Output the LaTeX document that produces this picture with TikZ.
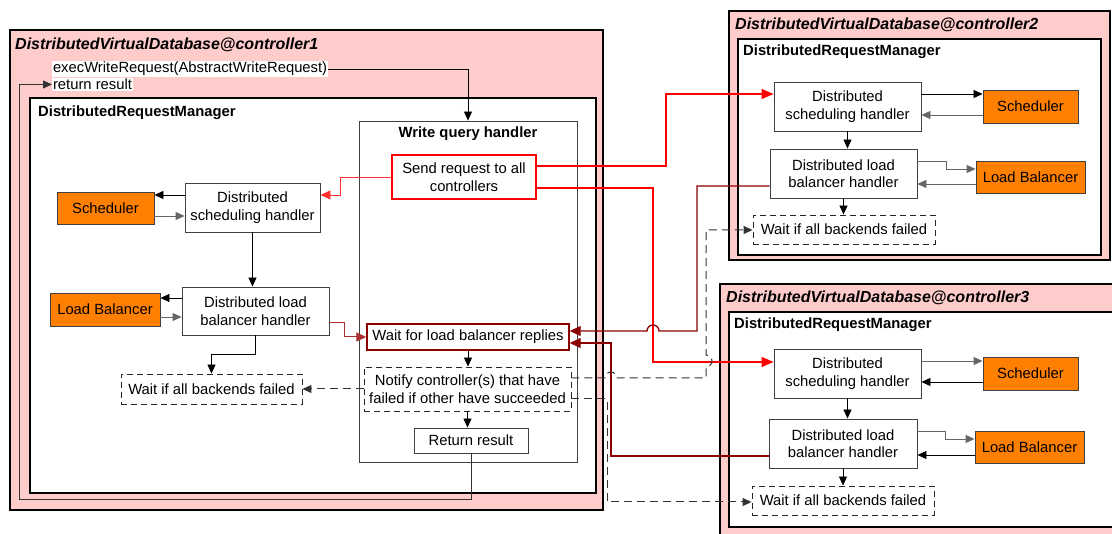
\documentclass[tikz,border=0pt]{standalone}
\usepackage{fontspec}
\setmainfont{Liberation Sans}
\usetikzlibrary{arrows.meta}
\definecolor{pinkbg}{HTML}{FFCCCC}
\definecolor{orng}{HTML}{FF8000}
\definecolor{dred}{HTML}{8B0000}
\definecolor{lred}{HTML}{FF3030}
\definecolor{bred}{HTML}{A83030}
\begin{document}
\begin{tikzpicture}[x=1pt,y=-1pt,
  every node/.style={font=\fontsize{14.8}{17.5}\selectfont, inner sep=0pt},
  sz/.style 2 args={minimum width=#1pt, minimum height=#2pt},
  ctl/.style={draw=black, line width=1.6pt, fill=pinkbg},
  drm/.style={draw=black, line width=1.6pt, fill=white},
  proc/.style={draw=black!75, line width=0.9pt, fill=white, align=center},
  orangebox/.style={draw=black!75, line width=0.9pt, fill=orng},
  dbox/.style={draw=black!85, dash pattern=on 6pt off 4pt, line width=0.9pt, fill=white, align=center},
  ttl/.style={font=\fontsize{16}{19}\selectfont\bfseries\itshape, anchor=west},
  sub/.style={font=\fontsize{14.8}{17.5}\selectfont\bfseries, anchor=west},
  tip/.style={-{Triangle[length=9pt,width=8pt]}},
  arr/.style={tip, line width=0.8pt, draw=black},
  garr/.style={tip, line width=0.9pt, draw=black!60},
  darr/.style={tip, line width=1pt, draw=black!80, dash pattern=on 8pt off 5pt},
  rarr/.style={-{Triangle[length=12pt,width=10pt]}, line width=1.4pt, draw=red},
  lrarr/.style={-{Triangle[length=10pt,width=9pt]}, line width=0.9pt, draw=lred},
  drarr/.style={-{Triangle[length=11pt,width=10pt]}, line width=1.3pt, draw=dred},
  brarr/.style={-{Triangle[length=10pt,width=9pt]}, line width=1pt, draw=bred},
  lbl/.style={fill=white, anchor=west, inner sep=0.8pt}
]
\useasboundingbox (0,0) rectangle (1112,534);
\clip (0,0) rectangle (1112,534);

% ---------- controller 1 ----------
\node[ctl, sz={593}{480}] (C1) at (306.5,270) {};
\node[ttl] (C1t) at (15,45) {DistributedVirtualDatabase@controller1};
\node[lbl] (exec) at (52,69) {execWriteRequest(AbstractWriteRequest)};
\node[lbl] (retl) at (52,84.5) {return result};
\node[drm, sz={566}{395}] (D1) at (313,295.5) {};
\node[sub] (D1t) at (38,113) {DistributedRequestManager};
\node[proc, sz={218}{341}] (WQH) at (468,291.5) {};
\node[font=\fontsize{14.8}{17.5}\selectfont\bfseries] (WQHt) at (468,134) {Write query handler};
\node[proc, draw=red, line width=1.3pt, sz={144}{44}] (Send) at (464,177) {Send request to all\\controllers};
\node[proc, draw=dred, line width=1.4pt, sz={202}{26}] (WaitLB) at (468,337) {Wait for load balancer replies};
\node[dbox, sz={207}{44}] (Notify) at (467.5,389) {Notify controller(s) that have\\failed if other have succeeded};
\node[proc, sz={114}{25}] (Ret) at (471,440.5) {Return result};

\node[proc, sz={135}{49}] (DSH1) at (252.5,207.5) {Distributed\\scheduling handler};
\node[orangebox, sz={97}{32}] (S1) at (105.5,208) {Scheduler};
\node[proc, sz={147}{48}] (DLB1) at (255.5,311) {Distributed load\\balancer handler};
\node[orangebox, sz={110}{33}] (LB1) at (105,309.5) {Load Balancer};
\node[dbox, sz={181}{30}] (W1) at (211.5,389) {Wait if all backends failed};

% ---------- controller 2 ----------
\node[ctl, sz={381}{249}] (C2) at (919.5,135.5) {};
\node[ttl] (C2t) at (735,25) {DistributedVirtualDatabase@controller2};
\node[drm, sz={363}{216}] (D2) at (919.5,147) {};
\node[sub] (D2t) at (743,52) {DistributedRequestManager};
\node[proc, sz={147}{49}] (DSH2) at (847.5,106.5) {Distributed\\scheduling handler};
\node[orangebox, sz={95}{33}] (S2) at (1030.5,106.5) {Scheduler};
\node[proc, sz={147}{49}] (DLB2) at (843.5,173.5) {Distributed load\\balancer handler};
\node[orangebox, sz={109}{32}] (LB2) at (1030.5,177) {Load Balancer};
\node[dbox, sz={182}{29}] (W2) at (844,229.5) {Wait if all backends failed};

% ---------- controller 3 ----------
\node[ctl, sz={405}{264}] (C3) at (922.5,416) {};
\node[ttl] (C3t) at (726,298) {DistributedVirtualDatabase@controller3};
\node[drm, sz={396}{215}] (D3) at (927,419.5) {};
\node[sub] (D3t) at (734,325) {DistributedRequestManager};
\node[proc, sz={147}{49}] (DSH3) at (847.5,373.5) {Distributed\\scheduling handler};
\node[orangebox, sz={95}{33}] (S3) at (1030.5,373.5) {Scheduler};
\node[proc, sz={148}{49}] (DLB3) at (843,443.5) {Distributed load\\balancer handler};
\node[orangebox, sz={109}{32}] (LB3) at (1029.5,447) {Load Balancer};
\node[dbox, sz={182}{29}] (W3) at (843,500.5) {Wait if all backends failed};

% ---------- connectors, controller 1 ----------
\draw[arr] (exec.east) -| (WQH.north);
\draw[arr, draw=black!80] (Ret.south) |- (19,499) |- (retl.west);
\draw[lrarr] (Send.west) -- (340,177) -- (340,195) -- (DSH1.east |- 0,195);
\draw[arr] (DSH1.west |- 0,195) -- (S1.east |- 0,195);
\draw[garr] (S1.east |- 0,216) -- (DSH1.west |- 0,216);
\draw[arr] (DSH1.south) -- (DSH1.south |- DLB1.north);
\draw[arr] (DLB1.west |- 0,298) -- (LB1.east |- 0,298);
\draw[garr] (LB1.east |- 0,317) -- (DLB1.west |- 0,317);
\draw[arr] (DLB1.south) -- ++(0,19) -| (W1.north);
\draw[brarr] (DLB1.east |- 0,323) -- (344,323) -- (344,337) -- (WaitLB.west);
\draw[arr] (WaitLB.south) -- (WaitLB.south |- Notify.north);
\draw[arr] (Notify.south) -- (Notify.south |- Ret.north);
\draw[darr] (Notify.west) -- (W1.east);

% ---------- connectors between controllers ----------
\draw[rarr] (Send.east |- 0,166) -- (666,166) -- (666,94) -- (DSH2.west |- 0,94);
\draw[rarr] (Send.east |- 0,188) -- (653,188) -- (653,362) -- (DSH3.west |- 0,362);
\draw[drarr] (DLB2.west |- 0,186) -- (697,186) -- (697,331) -- (659,331) arc(0:-180:6) -- (WaitLB.east |- 0,331);
\draw[drarr] (DLB3.west |- 0,456) -- (611,456) -- (611,343) -- (WaitLB.east |- 0,343);
\draw[darr] (Notify.east |- 0,378) -- (605,378) arc(180:360:6) -- (706,378) -- (706,367) arc(90:-90:6) -- (706,230) -- (W2.west |- 0,230);
\draw[darr] (Notify.east |- 0,399) -- (607,399) -- (607,502) -- (W3.west |- 0,502);

% ---------- connectors, controller 2 ----------
\draw[arr] (DSH2.east |- 0,94) -- (S2.west |- 0,94);
\draw[garr] (S2.west |- 0,115) -- (DSH2.east |- 0,115);
\draw[arr] (DSH2.south) -- (DSH2.south |- DLB2.north);
\draw[garr] (DLB2.east |- 0,161) -- (946,161) -- (946,169) -- (LB2.west |- 0,169);
\draw[garr] (LB2.west |- 0,184) -- (DLB2.east |- 0,184);
\draw[arr] (DLB2.south) -- (DLB2.south |- W2.north);

% ---------- connectors, controller 3 ----------
\draw[garr] (DSH3.east |- 0,361) -- (S3.west |- 0,361);
\draw[arr] (S3.west |- 0,382) -- (DSH3.east |- 0,382);
\draw[arr] (DSH3.south) -- (DSH3.south |- DLB3.north);
\draw[garr] (DLB3.east |- 0,431) -- (945,431) -- (945,439) -- (LB3.west |- 0,439);
\draw[arr] (LB3.west |- 0,455) -- (DLB3.east |- 0,455);
\draw[arr] (DLB3.south) -- (DLB3.south |- W3.north);
\end{tikzpicture}
\end{document}
